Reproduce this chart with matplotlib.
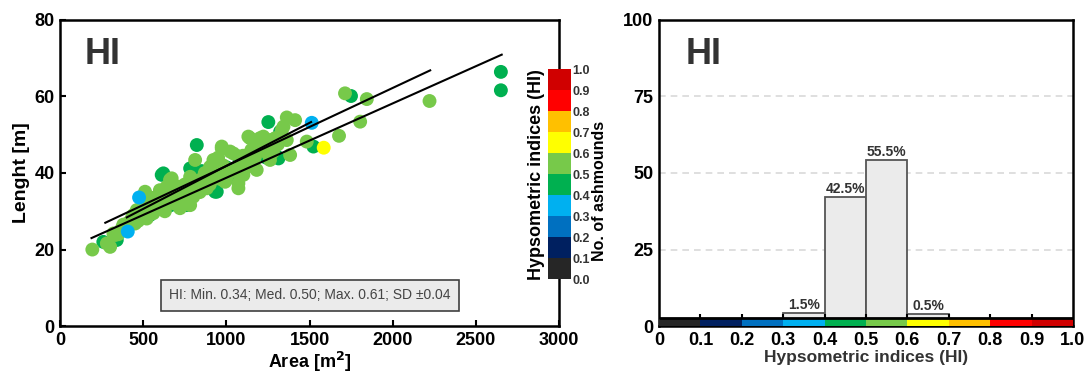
import numpy as np
import matplotlib
matplotlib.use("Agg")
import matplotlib.pyplot as plt
from matplotlib.colors import ListedColormap, BoundaryNorm
from matplotlib.cm import ScalarMappable

plt.rcParams['font.family'] = ['Liberation Sans', 'DejaVu Sans']

# --- scatter data: area [m2], length [m], HI class of the point ---
dark_area = [260, 341, 470, 540, 581, 611, 611, 621, 660, 700, 761, 782, 800, 822, 850,
             932, 942, 1000, 1060, 1072, 1150, 1240, 1252, 1303, 1313, 1323, 1523, 1749,
             2650, 2650]
dark_len = [22.0, 22.5, 29.5, 29.0, 33.4, 34.2, 39.5, 39.9, 31.5, 33.0, 31.6, 41.2, 37.5,
            47.3, 40.5, 35.1, 35.1, 41.5, 38.5, 44.3, 42.0, 44.0, 53.3, 44.3, 43.8, 50.8,
            46.9, 60.1, 66.4, 61.6]

light_area = [194, 281, 301, 321, 331, 350, 371, 380, 410, 430, 440, 451, 461, 470, 481,
              490, 500, 511, 521, 530, 541, 550, 560, 561, 580, 590, 600, 601, 620, 630,
              641, 650, 661, 671, 681, 690, 701, 711, 721, 721, 741, 750, 760, 760, 782,
              782, 782, 801, 812, 830, 840, 842, 862, 870, 882, 890, 900, 902, 902, 922,
              922, 932, 950, 950, 960, 972, 972, 980, 992, 1002, 1012, 1022, 1030, 1042,
              1050, 1072, 1072, 1082, 1090, 1100, 1102, 1120, 1132, 1140, 1142, 1150, 1162,
              1172, 1182, 1202, 1202, 1202, 1222, 1222, 1243, 1250, 1262, 1262, 1280, 1293,
              1310, 1333, 1343, 1363, 1363, 1383, 1413, 1483, 1677, 1713, 1804, 1844, 2221]
light_len = [20.0, 21.6, 20.7, 24.2, 23.8, 24.0, 25.5, 26.5, 27.0, 28.0, 29.0, 26.8, 30.3,
             27.5, 28.6, 30.0, 31.5, 35.1, 28.1, 30.0, 32.1, 31.5, 33.5, 29.5, 30.5, 32.5,
             35.5, 31.2, 33.0, 30.0, 36.4, 34.5, 38.2, 38.6, 32.1, 35.5, 34.7, 36.4, 32.1,
             30.8, 33.8, 37.0, 35.0, 33.0, 31.6, 39.0, 36.0, 33.8, 43.4, 36.5, 35.0, 38.2,
             38.2, 40.0, 36.0, 37.5, 37.0, 40.8, 41.6, 39.0, 43.4, 42.9, 40.5, 44.0, 38.5,
             46.4, 46.9, 42.0, 37.7, 39.0, 39.9, 45.6, 41.0, 45.1, 40.5, 36.0, 37.3, 42.5,
             41.0, 44.5, 39.5, 41.5, 49.5, 45.0, 49.1, 46.0, 43.4, 44.3, 40.8, 49.1, 48.2,
             46.9, 46.0, 49.5, 47.8, 45.0, 48.6, 43.4, 45.5, 49.1, 47.5, 51.2, 52.1, 54.5,
             48.6, 44.7, 53.8, 48.2, 49.7, 60.8, 53.4, 59.3, 58.8]

blue_area = [407, 475, 1513]
blue_len = [24.7, 33.6, 53.1]
yellow_area = [1585]
yellow_len = [46.6]

# HI class midpoints by colour
hi_dark, hi_light, hi_blue, hi_yellow = 0.45, 0.55, 0.35, 0.65

# trend lines (start/end)
trend_x = [[189, 2655], [272, 2225], [401, 1509]]
trend_y = [[23.0, 70.9], [27.0, 66.8], [28.4, 53.3]]

stats_text = "HI: Min. 0.34; Med. 0.50; Max. 0.61; SD \u00b10.04"

# --- histogram data ---
hi_bins = [0.0, 0.1, 0.2, 0.3, 0.4, 0.5, 0.6, 0.7, 0.8, 0.9, 1.0]
bar_left = [0.3, 0.4, 0.5, 0.6]
bar_height = [4.2, 42.1, 54.3, 3.8]
bar_labels = ["1.5%", "42.5%", "55.5%", "0.5%"]

hi_colors = ['#262626', '#002060', '#0070C0', '#00B0F0', '#00B050',
             '#77C94A', '#FFFF00', '#FFC000', '#FF0000', '#D00000']

cmap = ListedColormap(hi_colors)
norm = BoundaryNorm(hi_bins, cmap.N)

fig = plt.figure(figsize=(10.92, 3.74), dpi=100)
ax1 = fig.add_axes([0.055, 0.128, 0.457, 0.819])
ax2 = fig.add_axes([0.6035, 0.128, 0.379, 0.819])
cax = fig.add_axes([0.502, 0.254, 0.021, 0.561])

# ---------- left: scatter ----------
xs = dark_area + light_area + blue_area + yellow_area
ys = dark_len + light_len + blue_len + yellow_len
cs = ([hi_dark] * len(dark_area) + [hi_light] * len(light_area)
      + [hi_blue] * len(blue_area) + [hi_yellow] * len(yellow_area))
ax1.scatter(xs, ys, c=cs, cmap=cmap, norm=norm, s=100, linewidths=0, zorder=2)
for tx, ty in zip(trend_x, trend_y):
    ax1.plot(tx, ty, color='black', lw=1.5, zorder=3)

ax1.set_xlim(0, 3000)
ax1.set_ylim(0, 80)
ax1.set_xticks([0, 500, 1000, 1500, 2000, 2500, 3000])
ax1.set_yticks([0, 20, 40, 60, 80])
ax1.set_xlabel("Area [m$^\\mathbf{2}$]", fontsize=13, fontweight='bold', labelpad=1)
ax1.set_ylabel("Lenght [m]", fontsize=14, fontweight='bold', labelpad=3)
ax1.text(0.05, 0.886, "HI", transform=ax1.transAxes, fontsize=26, fontweight='bold',
         color='#333333', va='center', ha='left')
ax1.text(0.501, 0.101, stats_text, transform=ax1.transAxes, fontsize=10,
         color='#444444', ha='center', va='center',
         bbox=dict(boxstyle='square,pad=0.6', facecolor='#EBEBEB', edgecolor='#404040', lw=1.2))

# colorbar
cb = fig.colorbar(ScalarMappable(norm=norm, cmap=cmap), cax=cax, ticks=hi_bins)
cb.outline.set_visible(False)
cb.ax.set_yticklabels([f"{v:.1f}" for v in hi_bins])
cb.ax.tick_params(length=0, labelsize=9, pad=1, labelcolor='#333333')
for lbl in cb.ax.get_yticklabels():
    lbl.set_fontweight('bold')
cb.ax.yaxis.set_label_position('left')
cb.set_label("Hypsometric indices (HI)", fontsize=13, fontweight='bold', labelpad=2)

# ---------- right: histogram ----------
ax2.set_axisbelow(True)
ax2.yaxis.grid(True, color='#D9D9D9', linestyle=(0, (4, 3)), lw=1.2)
ax2.bar(bar_left, bar_height, width=0.1, align='edge', color='#EBEBEB',
        edgecolor='#555555', linewidth=1.3, zorder=2)
for x0, h, lab in zip(bar_left, bar_height, bar_labels):
    ax2.text(x0 + 0.05, h + 0.4, lab, ha='center', va='bottom', fontsize=10,
             fontweight='bold', color='#333333', zorder=4)

# colour strip along the bottom
ax2.bar(hi_bins[:-1], 2.4, width=0.1, align='edge', color=hi_colors, linewidth=0, zorder=3)
ax2.hlines(2.6, 0, 1, color='black', lw=2, zorder=3)
ax2.vlines(hi_bins[1:-1], 2.6, 4.0, color='black', lw=1.5, zorder=3)

ax2.set_xlim(0, 1.0)
ax2.set_ylim(0, 100)
ax2.set_xticks(hi_bins)
ax2.set_xticklabels(["0"] + [f"{v:.1f}" for v in hi_bins[1:]])
ax2.set_yticks([0, 25, 50, 75, 100])
ax2.set_xlabel("Hypsometric indices (HI)", fontsize=12.5, fontweight='bold', color='#333333', labelpad=1)
ax2.set_ylabel("No. of ashmounds", fontsize=11.5, fontweight='bold')
ax2.yaxis.set_label_coords(-0.125, 0.44)
ax2.text(0.065, 0.886, "HI", transform=ax2.transAxes, fontsize=26, fontweight='bold',
         color='#333333', va='center', ha='left')

for ax in (ax1, ax2):
    for sp in ax.spines.values():
        sp.set_linewidth(1.8)
    ax.tick_params(direction='in', length=4, width=1.5, labelsize=13, pad=4)
    for lbl in ax.get_xticklabels() + ax.get_yticklabels():
        lbl.set_fontweight('bold')
ax2.tick_params(axis='both', length=0)

fig.savefig("out.png", dpi=100)
